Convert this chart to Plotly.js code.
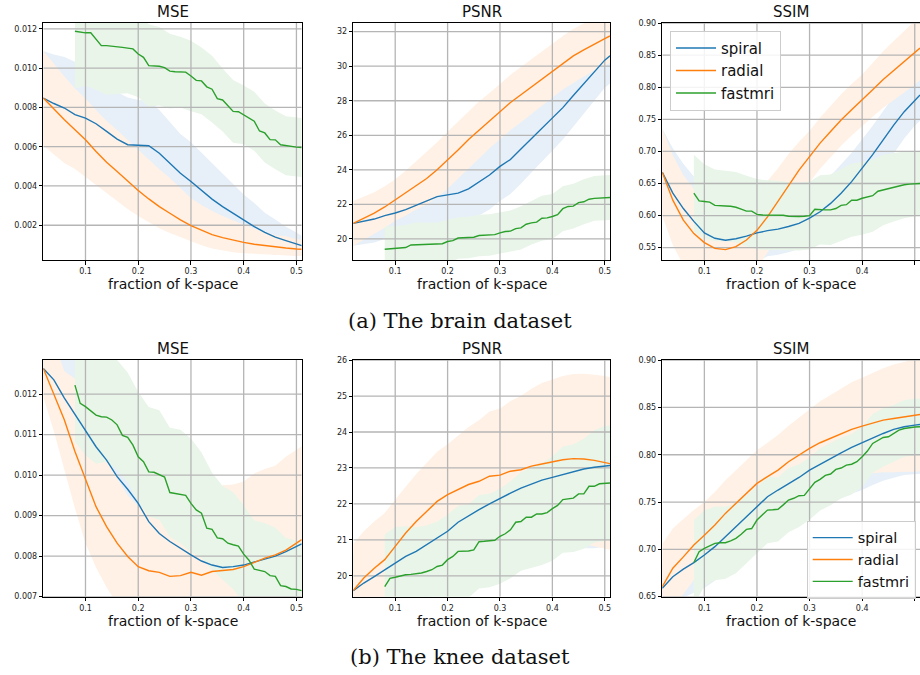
<!DOCTYPE html>
<html><head><meta charset="utf-8">
<script src="https://cdn.plot.ly/plotly-3.0.1.min.js"></script>
<style>body{margin:0;background:#fff}#chart{width:920px;height:675px}</style>
</head><body><div id="chart"></div>
<script>
// ---------- data ----------
const X = [0.02,0.04,0.06,0.08,0.10,0.12,0.14,0.16,0.18,0.20,0.22,0.24,0.26,0.28,0.30,0.32,0.34,0.36,0.38,0.40,0.42,0.44,0.46,0.48,0.50,0.51];
const FX = [0.08,0.09,0.10,0.11,0.12,0.13,0.14,0.15,0.16,0.17,0.18,0.19,0.20,0.21,0.22,0.23,0.24,0.25,0.26,0.27,0.28,0.29,0.30,0.31,0.32,0.33,0.34,0.35,0.36,0.37,0.38,0.39,0.40,0.41,0.42,0.43,0.44,0.45,0.46,0.47,0.48,0.49,0.50,0.51];
const FBX = [0.08,0.10,0.12,0.14,0.16,0.18,0.20,0.22,0.24,0.26,0.28,0.30,0.32,0.34,0.36,0.38,0.40,0.42,0.44,0.46,0.48,0.50,0.51];
const xTicks = [0.1,0.2,0.3,0.4,0.5];
const seriesNames = ['spiral','radial','fastmri'];
const panelTitles = ['MSE','PSNR','SSIM','MSE','PSNR','SSIM'];
const captions = ['(a) The brain dataset','(b) The knee dataset'];
const xTitle = 'fraction of k-space';

// brain MSE
const brainMseTicks = [0.002,0.004,0.006,0.008,0.010,0.012];
const brainMseSpiral = [0.00848,0.0082,0.00797,0.00763,0.00746,0.00717,0.00678,0.00639,0.0061,0.00608,0.00605,0.00567,0.00516,0.00465,0.00423,0.0038,0.00333,0.00295,0.00261,0.00227,0.00193,0.00164,0.00139,0.00122,0.00103,0.00096];
const brainMseSpiralUp = [0.0024,0.0025,0.0026,0.0027,0.0027,0.0026,0.0025,0.0024,0.0024,0.0023,0.0023,0.0022,0.0021,0.002,0.002,0.0019,0.0018,0.0017,0.0015,0.0013,0.0012,0.001,0.0009,0.0007,0.0006,0.0005];
const brainMseSpiralDn = [0.0024,0.0025,0.0026,0.0027,0.0027,0.0026,0.0025,0.0024,0.0024,0.0023,0.0023,0.0022,0.0021,0.002,0.002,0.0019,0.0018,0.0017,0.0015,0.0013,0.0012,0.001,0.0009,0.0007,0.0006,0.0005];
const brainMseRadial = [0.00848,0.0079,0.00737,0.00686,0.00635,0.00576,0.00521,0.00474,0.00423,0.00377,0.00334,0.00295,0.00261,0.00227,0.00198,0.00173,0.00152,0.00137,0.00123,0.00113,0.00103,0.00096,0.00089,0.00084,0.00079,0.00078];
const brainMseRadialUp = [0.0024,0.0023,0.0022,0.0021,0.0021,0.0021,0.0021,0.0021,0.0021,0.0021,0.002,0.0019,0.0018,0.0016,0.0014,0.0013,0.0012,0.0011,0.001,0.0009,0.0008,0.0007,0.0006,0.0006,0.0005,0.0005];
const brainMseRadialDn = [0.0024,0.0023,0.0022,0.002,0.0019,0.0017,0.0016,0.0015,0.0014,0.0013,0.0012,0.0011,0.001,0.0009,0.0008,0.00075,0.0007,0.00065,0.0006,0.00055,0.0005,0.00045,0.0004,0.00038,0.00035,0.00035];
const brainMseFast = [0.01188,0.01183,0.0118,0.0118,0.0115,0.01115,0.01115,0.01113,0.0111,0.01106,0.01102,0.01098,0.01072,0.01055,0.01013,0.01013,0.0101,0.01003,0.00985,0.00982,0.0098,0.0098,0.0096,0.00938,0.00935,0.00905,0.00893,0.00845,0.00838,0.0081,0.0078,0.00778,0.00762,0.0075,0.0073,0.0068,0.0067,0.00636,0.00635,0.0061,0.00605,0.006,0.00598,0.00596];
const brainMseFastUp = [0.0029,0.0027,0.0026,0.0025,0.0024,0.0023,0.0022,0.0021,0.002,0.0019,0.0018,0.0018,0.0017,0.0017,0.0016,0.0016,0.0015,0.0015,0.0015,0.0015,0.0015,0.0015,0.0015];
const brainMseFastDn = [0.0029,0.0027,0.0026,0.0025,0.0024,0.0023,0.0022,0.0021,0.002,0.0019,0.0018,0.0018,0.0017,0.0017,0.0016,0.0016,0.0015,0.0015,0.0015,0.0015,0.0015,0.0015,0.0015];

// brain PSNR
const brainPsnrTicks = [20,22,24,26,28,30,32];
const brainPsnrSpiral = [20.9,21.02,21.15,21.35,21.5,21.7,21.95,22.2,22.45,22.55,22.65,22.9,23.3,23.7,24.2,24.6,25.2,25.8,26.4,27.0,27.6,28.3,29.0,29.7,30.35,30.6];
const brainPsnrSpiralUp = [1.3,1.3,1.35,1.35,1.4,1.5,1.6,1.7,1.8,1.8,1.85,1.9,1.95,2.0,2.0,2.0,2.0,1.95,1.9,1.9,1.85,1.8,1.75,1.7,1.6,1.6];
const brainPsnrSpiralDn = [1.3,1.3,1.35,1.35,1.4,1.5,1.6,1.7,1.8,1.8,1.85,1.9,1.95,2.0,2.0,2.0,2.0,1.95,1.9,1.9,1.85,1.8,1.75,1.7,1.6,1.6];
const brainPsnrRadial = [20.9,21.2,21.5,21.85,22.25,22.65,23.1,23.5,24.0,24.55,25.15,25.75,26.3,26.85,27.4,27.9,28.35,28.8,29.3,29.75,30.2,30.6,30.95,31.3,31.6,31.75];
const brainPsnrRadialUp = [1.3,1.25,1.2,1.2,1.2,1.3,1.4,1.5,1.6,1.65,1.65,1.65,1.65,1.6,1.6,1.6,1.6,1.6,1.6,1.57,1.55,1.55,1.55,1.55,1.55,1.55];
const brainPsnrRadialDn = [1.3,1.25,1.2,1.2,1.2,1.3,1.4,1.5,1.6,1.65,1.65,1.65,1.65,1.6,1.6,1.6,1.6,1.6,1.6,1.57,1.55,1.55,1.55,1.55,1.55,1.55];
const brainPsnrFast = [19.4,19.42,19.43,19.45,19.5,19.65,19.66,19.67,19.68,19.69,19.7,19.72,19.85,19.9,20.05,20.06,20.08,20.1,20.2,20.21,20.23,20.25,20.35,20.43,20.45,20.6,20.64,20.85,20.93,20.97,21.2,21.22,21.3,21.4,21.75,21.88,21.9,22.1,22.15,22.3,22.35,22.38,22.39,22.4];
const brainPsnrFastUp = [1.3,1.3,1.3,1.3,1.25,1.25,1.25,1.2,1.2,1.2,1.2,1.2,1.2,1.25,1.25,1.3,1.3,1.3,1.3,1.3,1.3,1.3,1.3];
const brainPsnrFastDn = [1.3,1.3,1.3,1.3,1.25,1.25,1.25,1.2,1.2,1.2,1.2,1.2,1.2,1.25,1.25,1.3,1.3,1.3,1.3,1.3,1.3,1.3,1.3];

// brain SSIM
const brainSsimTicks = [0.55,0.60,0.65,0.70,0.75,0.80,0.85,0.90];
const brainSsimSpiral = [0.6675,0.635,0.611,0.591,0.573,0.5646,0.5615,0.564,0.568,0.573,0.5765,0.579,0.583,0.588,0.596,0.606,0.619,0.635,0.653,0.674,0.695,0.718,0.741,0.762,0.780,0.788];
const brainSsimSpiralUp = [0.068,0.07,0.07,0.07,0.07,0.065,0.06,0.055,0.05,0.045,0.04,0.04,0.04,0.04,0.04,0.042,0.043,0.045,0.045,0.045,0.045,0.045,0.045,0.042,0.04,0.04];
const brainSsimSpiralDn = [0.068,0.07,0.07,0.07,0.07,0.065,0.06,0.055,0.05,0.045,0.04,0.04,0.04,0.04,0.04,0.042,0.043,0.045,0.045,0.045,0.045,0.045,0.045,0.042,0.04,0.04];
const brainSsimRadial = [0.6675,0.624,0.593,0.572,0.558,0.549,0.547,0.5516,0.562,0.577,0.598,0.622,0.648,0.671,0.692,0.713,0.731,0.749,0.765,0.780,0.796,0.812,0.826,0.840,0.854,0.861];
const brainSsimRadialUp = [0.068,0.07,0.07,0.07,0.07,0.068,0.066,0.063,0.06,0.058,0.056,0.052,0.048,0.044,0.04,0.04,0.04,0.04,0.04,0.04,0.042,0.044,0.046,0.048,0.05,0.05];
const brainSsimRadialDn = [0.068,0.07,0.07,0.07,0.07,0.068,0.066,0.063,0.06,0.058,0.056,0.052,0.048,0.044,0.04,0.04,0.04,0.04,0.04,0.04,0.042,0.044,0.046,0.048,0.05,0.05];
const brainSsimFast = [0.635,0.623,0.622,0.621,0.616,0.615,0.615,0.6145,0.613,0.61,0.607,0.607,0.602,0.601,0.601,0.6005,0.6005,0.6005,0.599,0.5985,0.5985,0.599,0.6,0.61,0.609,0.609,0.609,0.611,0.616,0.617,0.624,0.624,0.627,0.629,0.631,0.638,0.64,0.643,0.644,0.647,0.648,0.649,0.6495,0.65];
const brainSsimFastUp = [0.06,0.058,0.056,0.055,0.055,0.055,0.055,0.054,0.054,0.053,0.053,0.053,0.054,0.055,0.056,0.057,0.057,0.056,0.055,0.053,0.052,0.051,0.05];
const brainSsimFastDn = [0.06,0.058,0.056,0.055,0.055,0.055,0.055,0.054,0.054,0.053,0.053,0.053,0.054,0.055,0.056,0.057,0.057,0.056,0.055,0.053,0.052,0.051,0.05];

// knee MSE
const kneeMseTicks = [0.007,0.008,0.009,0.010,0.011,0.012];
const kneeMseSpiral = [0.01263,0.01235,0.0119,0.0115,0.0111,0.0107,0.01037,0.00996,0.00965,0.0093,0.00885,0.00856,0.00836,0.00819,0.00803,0.00788,0.00778,0.00772,0.00774,0.00778,0.00785,0.00792,0.008,0.00811,0.00825,0.0083];
const kneeMseSpiralUp = [0.0013,0.0013,0.0014,0.0014,0.0014,0.0014,0.0014,0.0013,0.0013,0.0013,0.0013,0.0012,0.0012,0.0012,0.0012,0.0012,0.0012,0.0012,0.0012,0.0012,0.0012,0.0012,0.0012,0.0012,0.0012,0.0012];
const kneeMseSpiralDn = [0.0006,0.0008,0.001,0.0012,0.0013,0.0013,0.0013,0.0013,0.0013,0.0013,0.0013,0.0012,0.0012,0.0012,0.0012,0.0012,0.0012,0.0012,0.0012,0.0012,0.0012,0.0012,0.0012,0.0012,0.0012,0.0012];
const kneeMseRadial = [0.01263,0.01198,0.01136,0.01058,0.00992,0.00922,0.00873,0.00832,0.00799,0.00774,0.00764,0.0076,0.0075,0.00752,0.0076,0.00753,0.00762,0.00765,0.00767,0.00774,0.00784,0.00795,0.00803,0.00815,0.00832,0.00841];
const kneeMseRadialUp = [0.0014,0.0013,0.0012,0.0018,0.0019,0.0018,0.0017,0.0016,0.0015,0.0015,0.0015,0.0016,0.0017,0.0018,0.0019,0.002,0.002,0.0021,0.0021,0.0021,0.0022,0.0022,0.0022,0.0023,0.0023,0.0023];
const kneeMseRadialDn = [0.0007,0.0009,0.0012,0.0014,0.0016,0.0015,0.0015,0.0015,0.0015,0.0015,0.0015,0.0015,0.0015,0.0015,0.0015,0.0015,0.0015,0.0015,0.0015,0.0015,0.0015,0.0015,0.0015,0.0015,0.0015,0.0015];
const kneeMseFast = [0.01222,0.01177,0.01169,0.01158,0.01148,0.01144,0.01143,0.01136,0.01124,0.01098,0.01093,0.01074,0.01045,0.01033,0.01008,0.01007,0.01,0.00995,0.00957,0.00955,0.00952,0.0095,0.0093,0.00914,0.00906,0.00869,0.00866,0.00845,0.00843,0.00832,0.00828,0.00825,0.00805,0.0079,0.00768,0.00765,0.00762,0.00752,0.0075,0.00727,0.00725,0.00719,0.00718,0.00715];
const kneeMseFastUp = [0.002,0.0019,0.0018,0.0017,0.0016,0.0016,0.0016,0.0016,0.0016,0.0016,0.0016,0.0016,0.0015,0.0014,0.0013,0.0013,0.0012,0.0012,0.0012,0.0012,0.0012,0.0012,0.0012];
const kneeMseFastDn = [0.0014,0.0012,0.0012,0.0011,0.0011,0.0011,0.0011,0.0011,0.0011,0.0011,0.0012,0.0012,0.0011,0.001,0.001,0.0011,0.0012,0.0012,0.0012,0.0012,0.0012,0.0012,0.0012];

// knee PSNR
const kneePsnrTicks = [20,21,22,23,24,25,26];
const kneePsnrSpiral = [19.59,19.8,19.98,20.17,20.35,20.54,20.68,20.86,21.05,21.24,21.49,21.67,21.84,22.0,22.16,22.3,22.44,22.56,22.66,22.74,22.82,22.89,22.97,23.02,23.05,23.07];
const kneePsnrSpiralUp = [1.0,1.05,1.1,1.15,1.3,1.35,1.4,1.5,1.55,1.6,1.65,1.7,1.75,1.8,1.9,1.95,2.0,2.05,2.1,2.1,2.15,2.2,2.2,2.25,2.25,2.25];
const kneePsnrSpiralDn = [1.0,1.05,1.1,1.15,1.3,1.35,1.4,1.5,1.55,1.6,1.65,1.7,1.75,1.8,1.9,1.95,2.0,2.05,2.1,2.1,2.15,2.2,2.2,2.25,2.25,2.25];
const kneePsnrRadial = [19.59,19.94,20.21,20.45,20.82,21.19,21.51,21.79,22.07,22.26,22.4,22.54,22.63,22.77,22.8,22.91,22.95,23.05,23.11,23.17,23.23,23.26,23.25,23.21,23.16,23.12];
const kneePsnrRadialUp = [1.3,1.3,1.3,1.3,1.3,1.3,1.32,1.35,1.38,1.4,1.5,1.6,1.7,1.8,1.85,1.95,2.05,2.15,2.25,2.3,2.33,2.35,2.37,2.38,2.4,2.4];
const kneePsnrRadialDn = [1.3,1.3,1.3,1.3,1.3,1.3,1.32,1.35,1.38,1.4,1.5,1.6,1.7,1.8,1.85,1.95,2.05,2.15,2.25,2.3,2.33,2.35,2.37,2.38,2.4,2.4];
const kneePsnrFast = [19.7,19.93,19.96,20.0,20.03,20.04,20.05,20.08,20.12,20.17,20.26,20.3,20.45,20.54,20.68,20.68,20.69,20.72,20.95,20.96,20.98,20.99,21.1,21.17,21.28,21.49,21.51,21.63,21.63,21.72,21.72,21.76,21.87,21.96,22.12,22.15,22.16,22.28,22.28,22.49,22.49,22.56,22.57,22.58];
const kneePsnrFastUp = [1.45,1.4,1.35,1.3,1.28,1.25,1.25,1.27,1.3,1.3,1.3,1.32,1.35,1.37,1.4,1.42,1.45,1.48,1.5,1.53,1.56,1.6,1.6];
const kneePsnrFastDn = [1.45,1.4,1.35,1.3,1.28,1.25,1.25,1.27,1.3,1.3,1.3,1.32,1.35,1.37,1.4,1.42,1.45,1.48,1.5,1.53,1.56,1.6,1.6];

// knee SSIM
const kneeSsimTicks = [0.65,0.70,0.75,0.80,0.85,0.90];
const kneeSsimSpiral = [0.6588,0.671,0.679,0.686,0.694,0.7028,0.7134,0.724,0.7345,0.745,0.7556,0.7627,0.769,0.776,0.7838,0.790,0.796,0.802,0.8077,0.8127,0.818,0.8225,0.8268,0.8296,0.8313,0.832];
const kneeSsimSpiralUp = [0.025,0.027,0.03,0.032,0.035,0.036,0.037,0.038,0.039,0.04,0.041,0.042,0.043,0.044,0.045,0.046,0.047,0.048,0.049,0.05,0.05,0.05,0.051,0.051,0.052,0.052];
const kneeSsimSpiralDn = [0.025,0.027,0.03,0.032,0.035,0.036,0.037,0.038,0.039,0.04,0.041,0.042,0.043,0.044,0.045,0.046,0.047,0.048,0.049,0.05,0.05,0.05,0.051,0.051,0.052,0.052];
const kneeSsimRadial = [0.6606,0.68,0.692,0.7046,0.715,0.7257,0.738,0.7486,0.759,0.7697,0.7768,0.7838,0.7926,0.7996,0.8067,0.8127,0.8173,0.8225,0.8268,0.8303,0.8338,0.8366,0.8384,0.8401,0.8419,0.8426];
const kneeSsimRadialUp = [0.045,0.042,0.04,0.037,0.035,0.035,0.035,0.035,0.035,0.035,0.036,0.037,0.038,0.04,0.042,0.044,0.046,0.048,0.05,0.051,0.053,0.055,0.057,0.058,0.06,0.06];
const kneeSsimRadialDn = [0.045,0.042,0.04,0.037,0.035,0.035,0.035,0.035,0.035,0.035,0.036,0.037,0.038,0.04,0.042,0.044,0.046,0.048,0.05,0.051,0.053,0.055,0.057,0.058,0.06,0.06];
const kneeSsimFast = [0.686,0.6975,0.701,0.7035,0.7063,0.707,0.707,0.709,0.7116,0.716,0.7211,0.722,0.731,0.7363,0.7415,0.7418,0.7423,0.747,0.7521,0.754,0.7567,0.757,0.7644,0.7708,0.774,0.7782,0.7796,0.7845,0.786,0.7891,0.79,0.7926,0.7979,0.8039,0.812,0.8155,0.8183,0.819,0.8225,0.826,0.8278,0.8289,0.8293,0.8296];
const kneeSsimFastUp = [0.045,0.04,0.039,0.038,0.037,0.036,0.035,0.035,0.034,0.034,0.033,0.033,0.033,0.033,0.032,0.032,0.032,0.031,0.031,0.03,0.03,0.03,0.03];
const kneeSsimFastDn = [0.045,0.04,0.039,0.038,0.037,0.036,0.035,0.035,0.034,0.034,0.033,0.033,0.033,0.033,0.032,0.032,0.032,0.031,0.031,0.03,0.03,0.03,0.03];

// ---------- build ----------
const colors = ['#1f77b4','#ff7f0e','#2ca02c'];
const fills = ['#e7f0f8','#fff1e5','#e9f5e9'];
const gridColor = '#b5b5b5';

const panels = [
  {s:brainMseSpiral,su:brainMseSpiralUp,sd:brainMseSpiralDn,r:brainMseRadial,ru:brainMseRadialUp,rd:brainMseRadialDn,f:brainMseFast,fu:brainMseFastUp,fd:brainMseFastDn,range:[0.00023,0.0123],ticks:brainMseTicks,fmt:'.3f'},
  {s:brainPsnrSpiral,su:brainPsnrSpiralUp,sd:brainPsnrSpiralDn,r:brainPsnrRadial,ru:brainPsnrRadialUp,rd:brainPsnrRadialDn,f:brainPsnrFast,fu:brainPsnrFastUp,fd:brainPsnrFastDn,range:[18.78,32.5],ticks:brainPsnrTicks,fmt:'d'},
  {s:brainSsimSpiral,su:brainSsimSpiralUp,sd:brainSsimSpiralDn,r:brainSsimRadial,ru:brainSsimRadialUp,rd:brainSsimRadialDn,f:brainSsimFast,fu:brainSsimFastUp,fd:brainSsimFastDn,range:[0.5308,0.9002],ticks:brainSsimTicks,fmt:'.2f'},
  {s:kneeMseSpiral,su:kneeMseSpiralUp,sd:kneeMseSpiralDn,r:kneeMseRadial,ru:kneeMseRadialUp,rd:kneeMseRadialDn,f:kneeMseFast,fu:kneeMseFastUp,fd:kneeMseFastDn,range:[0.006999,0.01284],ticks:kneeMseTicks,fmt:'.3f'},
  {s:kneePsnrSpiral,su:kneePsnrSpiralUp,sd:kneePsnrSpiralDn,r:kneePsnrRadial,ru:kneePsnrRadialUp,rd:kneePsnrRadialDn,f:kneePsnrFast,fu:kneePsnrFastUp,fd:kneePsnrFastDn,range:[19.42,26.002],ticks:kneePsnrTicks,fmt:'d'},
  {s:kneeSsimSpiral,su:kneeSsimSpiralUp,sd:kneeSsimSpiralDn,r:kneeSsimRadial,ru:kneeSsimRadialUp,rd:kneeSsimRadialDn,f:kneeSsimFast,fu:kneeSsimFastUp,fd:kneeSsimFastDn,range:[0.6499,0.9002],ticks:kneeSsimTicks,fmt:'.2f'}
];

function pick(fx, f, bx){ return bx.map(v => f[fx.findIndex(q => Math.abs(q - v) < 1e-9)]); }
function band(x, m, up, dn, xa, ya, col){
  const hi = m.map((v,i)=>v + up[i]);
  const lo = m.map((v,i)=>v - dn[i]);
  return {x: x.concat(x.slice().reverse()), y: hi.concat(lo.slice().reverse()),
    xaxis: xa, yaxis: ya, type:'scatter', mode:'lines', fill:'toself', fillcolor: col,
    line:{width:0, color:'rgba(0,0,0,0)'}, hoverinfo:'skip', showlegend:false};
}
function gridTrace(xr, yr, xt, yt, xa, ya){
  const gx = [], gy = [];
  xt.forEach(t => { gx.push(t, t, null); gy.push(yr[0], yr[1], null); });
  yt.forEach(t => { gx.push(xr[0], xr[1], null); gy.push(t, t, null); });
  return {x:gx, y:gy, xaxis:xa, yaxis:ya, type:'scatter', mode:'lines', line:{color:gridColor, width:1.3},
    hoverinfo:'skip', showlegend:false, connectgaps:false};
}

const W = 920, H = 675;
const colX = [[43.3,301.7],[353.3,610],[662.3,920]];
const rowY = [[23,260],[360,596.7]];
const XR = [0.02,0.51];
const traces = [];
const layout = {width:W, height:H, margin:{l:0,r:0,t:0,b:0}, paper_bgcolor:'#fff', plot_bgcolor:'#fff',
  font:{family:'DejaVu Sans', color:'#222'}, annotations:[], showlegend:true};

panels.forEach((p, k) => {
  const idx = k + 1;
  const xa = 'x' + (idx === 1 ? '' : idx), ya = 'y' + (idx === 1 ? '' : idx);
  const row = Math.floor(k / 3), col = k % 3;
  traces.push(band(X, p.s, p.su, p.sd, xa, ya, fills[0]));
  traces.push(band(X, p.r, p.ru, p.rd, xa, ya, fills[1]));
  traces.push(band(FBX, pick(FX, p.f, FBX), p.fu, p.fd, xa, ya, fills[2]));
  traces.push(gridTrace(XR, p.range, xTicks, p.ticks, xa, ya));
  const lines = [[X, p.s],[X, p.r],[FX, p.f]];
  lines.forEach((L, j) => {
    traces.push({x:L[0], y:L[1], xaxis:xa, yaxis:ya, type:'scatter', mode:'lines', name:seriesNames[j],
      line:{color:colors[j], width:1.4}, showlegend:(col === 2), legend: row === 0 ? 'legend' : 'legend2'});
  });
  const axCommon = {showline:true, linecolor:'#000', linewidth:1, mirror:true, ticks:'outside', ticklen:3.5,
    tickwidth:1, tickcolor:'#000', showgrid:false, zeroline:false,
    tickfont:{family:'DejaVu Sans', size:8, color:'#222'}};
  layout['xaxis' + (idx === 1 ? '' : idx)] = Object.assign({}, axCommon, {
    domain:[colX[col][0]/W, colX[col][1]/W], anchor: ya, range:XR, tickvals:xTicks, tickformat:'.1f'});
  layout['yaxis' + (idx === 1 ? '' : idx)] = Object.assign({}, axCommon, {
    domain:[1 - rowY[row][1]/H, 1 - rowY[row][0]/H], anchor: xa, range:p.range, tickvals:p.ticks, tickformat:p.fmt});
  const cx = (colX[col][0] + colX[col][1]) / 2 / W;
  layout.annotations.push({text:panelTitles[k], xref:'paper', yref:'paper', x:cx, y:1 - (rowY[row][0] - 11)/H,
    xanchor:'center', yanchor:'middle', showarrow:false, font:{family:'DejaVu Sans', size:15, color:'#111'}});
  layout.annotations.push({text:xTitle, xref:'paper', yref:'paper', x:cx, y:1 - (rowY[row][1] + 24)/H,
    xanchor:'center', yanchor:'middle', showarrow:false, font:{family:'DejaVu Sans', size:14, color:'#111'}});
});

captions.forEach((c, i) => {
  layout.annotations.push({text:c, xref:'paper', yref:'paper', x:0.5, y:1 - (i === 0 ? 321 : 657)/H,
    xanchor:'center', yanchor:'middle', showarrow:false, font:{family:'DejaVu Serif', size:21, color:'#111'}});
});

layout.legend = {x:670/W, y:1 - 30.7/H, xanchor:'left', yanchor:'top', bgcolor:'rgba(255,255,255,0.85)',
  bordercolor:'#cccccc', borderwidth:1, font:{family:'DejaVu Sans', size:15, color:'#111'}, itemwidth:40, tracegroupgap:0};
layout.legend2 = {x:806.7/W, y:1 - 520.7/H, xanchor:'left', yanchor:'top', bgcolor:'rgba(255,255,255,0.85)',
  bordercolor:'#cccccc', borderwidth:1, font:{family:'DejaVu Sans', size:14.5, color:'#111'}, itemwidth:40, tracegroupgap:0};

Plotly.newPlot('chart', traces, layout, {staticPlot:true, displayModeBar:false});
</script></body></html>
